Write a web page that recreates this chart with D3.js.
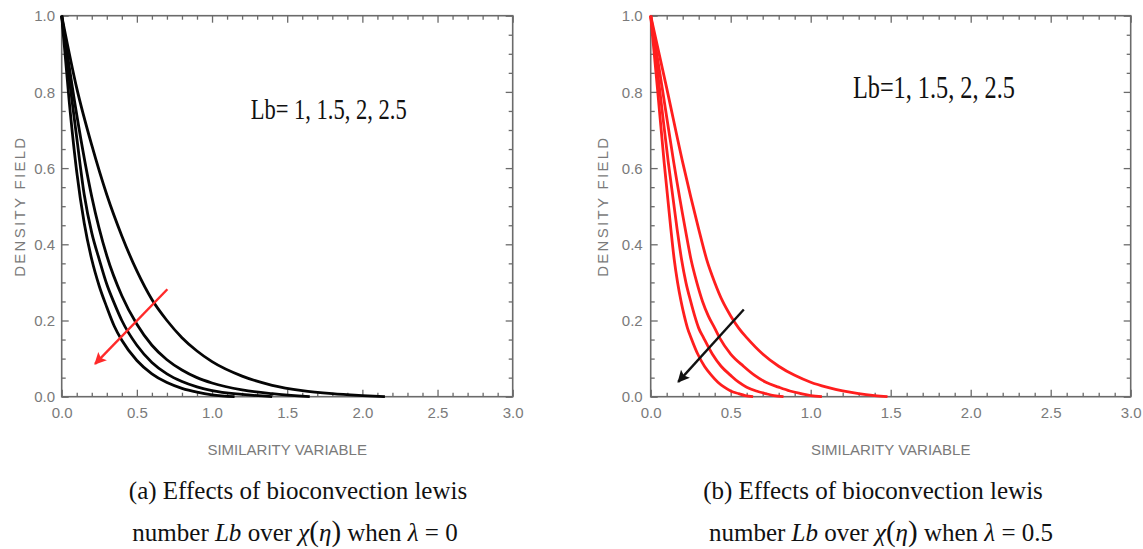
<!DOCTYPE html>
<html>
<head>
<meta charset="utf-8">
<script src="https://cdn.jsdelivr.net/npm/d3@7"></script>
<style>
body { margin: 0; background: #fff; }
.tick text { font-family: "Liberation Sans", Arial, sans-serif; font-size: 15px; fill: #7a7a7a; }
.axis-title { font-family: "Liberation Sans", Arial, sans-serif; font-size: 15px; fill: #7a7a7a; }
.caption { font-family: "Liberation Serif", "Times New Roman", serif; font-size: 25px; fill: #111; }
</style>
</head>
<body>
<div id="chart"></div>
<script>
// tick labels
var xTicks = [0, 0.5, 1, 1.5, 2, 2.5, 3],
	yTicks = [0, 0.2, 0.4, 0.6, 0.8, 1];

var lbValues = [1, 1.5, 2, 2.5];

var chiA_lb1 = [[0,1],[0.1,0.81],[0.2,0.66],[0.3,0.53],[0.4,0.422],[0.5,0.33],[0.6,0.255],[0.7,0.2],[0.8,0.155],[0.9,0.12],[1.0,0.092],[1.2,0.054],[1.4,0.03],[1.6,0.016],[1.8,0.008],[2.0,0.003],[2.15,0]],
	chiA_lb15 = [[0,1],[0.1,0.74],[0.2,0.525],[0.3,0.37],[0.4,0.265],[0.5,0.19],[0.6,0.135],[0.7,0.097],[0.8,0.07],[0.9,0.05],[1.0,0.036],[1.2,0.018],[1.4,0.008],[1.65,0]],
	chiA_lb2 = [[0,1],[0.05,0.835],[0.1,0.68],[0.15,0.53],[0.2,0.43],[0.25,0.36],[0.3,0.295],[0.35,0.245],[0.4,0.2],[0.5,0.135],[0.6,0.09],[0.7,0.06],[0.8,0.04],[0.9,0.026],[1.0,0.016],[1.2,0.006],[1.4,0]],
	chiA_lb25 = [[0,1],[0.05,0.775],[0.1,0.59],[0.15,0.455],[0.2,0.36],[0.25,0.29],[0.3,0.235],[0.35,0.185],[0.4,0.148],[0.5,0.095],[0.6,0.06],[0.7,0.037],[0.8,0.022],[0.9,0.012],[1.0,0.005],[1.15,0]];

// (b) lambda = 0.5
var chiB_lb1 = [[0,1],[0.1,0.81],[0.2,0.615],[0.3,0.44],[0.35,0.36],[0.4,0.3],[0.45,0.25],[0.5,0.212],[0.55,0.18],[0.6,0.155],[0.7,0.112],[0.8,0.08],[0.9,0.056],[1.0,0.038],[1.1,0.025],[1.2,0.015],[1.3,0.008],[1.4,0.003],[1.48,0]],
	chiB_lb15 = [[0,1],[0.072,0.81],[0.144,0.615],[0.216,0.44],[0.252,0.36],[0.288,0.3],[0.324,0.25],[0.36,0.212],[0.4,0.18],[0.43,0.155],[0.5,0.112],[0.58,0.08],[0.65,0.056],[0.72,0.038],[0.8,0.025],[0.87,0.015],[0.94,0.008],[1.0,0.003],[1.07,0]],
	chiB_lb2 = [[0,1],[0.055,0.81],[0.11,0.615],[0.165,0.44],[0.193,0.36],[0.22,0.3],[0.25,0.25],[0.275,0.212],[0.3,0.18],[0.33,0.155],[0.385,0.112],[0.44,0.08],[0.5,0.056],[0.55,0.038],[0.6,0.025],[0.66,0.015],[0.72,0.008],[0.77,0.003],[0.83,0]],
	chiB_lb25 = [[0,1],[0.042,0.81],[0.084,0.615],[0.126,0.44],[0.147,0.36],[0.168,0.3],[0.19,0.25],[0.21,0.212],[0.23,0.18],[0.252,0.155],[0.294,0.112],[0.336,0.08],[0.38,0.056],[0.42,0.038],[0.46,0.025],[0.5,0.015],[0.55,0.008],[0.59,0.003],[0.64,0]];

// arrows [from, to] in data units
var arrowA = [[0.703, 0.282], [0.222, 0.086]],
	arrowB = [[0.582, 0.229], [0.172, 0.039]];

var width = 1143, height = 549,
	plotTop = 15.7, plotBottom = 396.7;

var svg = d3.select("#chart").append("svg")
	.attr("width", width)
	.attr("height", height);

var defs = svg.append("defs");
function marker(id, color){
	defs.append("marker")
		.attr("id", id)
		.attr("viewBox", "0 0 10 10")
		.attr("refX", 9).attr("refY", 5)
		.attr("markerUnits", "userSpaceOnUse")
		.attr("markerWidth", 16).attr("markerHeight", 12)
		.attr("orient", "auto")
		.append("path")
		.attr("d", "M0,0 L10,5 L0,10 L2,5 Z")
		.attr("fill", color);
}
marker("head-red", "#ff2a2a");
marker("head-black", "#111");

var panels = [
	{ x0: 61.7, x1: 512.7, curves: [chiA_lb1, chiA_lb15, chiA_lb2, chiA_lb25], color: "#050505",
	  arrow: arrowA, arrowColor: "#ff2a2a", head: "head-red",
	  label: "Lb= 1, 1.5, 2, 2.5", labelAt: [1.257, 0.729], labelW: 156, labelSize: 29,
	  yPad: 6.7, yTitleX: 25,
	  capX: 298, lambda: "0" },
	{ x0: 650.7, x1: 1130.7, curves: [chiB_lb1, chiB_lb15, chiB_lb2, chiB_lb25], color: "#ff1e1e",
	  arrow: arrowB, arrowColor: "#111", head: "head-black",
	  label: "Lb=1, 1.5, 2, 2.5", labelAt: [1.264, 0.784], labelW: 162, labelSize: 32,
	  yPad: 8, yTitleX: 608,
	  capX: 873, lambda: "0.5" }
];

panels.forEach(function(p, i){
	var x = d3.scaleLinear().domain([0, 3]).range([p.x0, p.x1]),
		y = d3.scaleLinear().domain([0, 1]).range([plotBottom, plotTop]);

	var g = svg.append("g").attr("class", "panel panel-" + i);

	var xMinor = d3.range(0, 3.001, 0.1).filter(function(v){ return Math.abs(v*2 - Math.round(v*2)) > 1e-6; }),
		yMinor = d3.range(0, 1.001, 0.05).filter(function(v){ return Math.abs(v*5 - Math.round(v*5)) > 1e-6; });

	function styleAxis(sel){
		sel.select(".domain").remove();
		sel.selectAll(".tick line").attr("stroke", "#6b6b6b").attr("stroke-width", 1.3);
	}

	// bottom
	g.append("g").attr("transform", "translate(0," + plotBottom + ")")
		.call(d3.axisBottom(x).tickValues(xTicks).tickSize(-7).tickPadding(11).tickFormat(d3.format(".1f")))
		.call(styleAxis);
	g.append("g").attr("transform", "translate(0," + plotBottom + ")")
		.call(d3.axisBottom(x).tickValues(xMinor).tickSize(-4).tickFormat(""))
		.call(styleAxis);
	// top
	g.append("g").attr("transform", "translate(0," + plotTop + ")")
		.call(d3.axisTop(x).tickValues(xTicks).tickSize(-7).tickFormat(""))
		.call(styleAxis);
	g.append("g").attr("transform", "translate(0," + plotTop + ")")
		.call(d3.axisTop(x).tickValues(xMinor).tickSize(-4).tickFormat(""))
		.call(styleAxis);
	// left
	g.append("g").attr("class", "y-left").attr("transform", "translate(" + p.x0 + ",0)")
		.call(d3.axisLeft(y).tickValues(yTicks).tickSize(-7).tickPadding(p.yPad).tickFormat(d3.format(".1f")))
		.call(styleAxis);
	g.append("g").attr("transform", "translate(" + p.x0 + ",0)")
		.call(d3.axisLeft(y).tickValues(yMinor).tickSize(-4).tickFormat(""))
		.call(styleAxis);
	// right
	g.append("g").attr("transform", "translate(" + p.x1 + ",0)")
		.call(d3.axisRight(y).tickValues(yTicks).tickSize(-7).tickFormat(""))
		.call(styleAxis);
	g.append("g").attr("transform", "translate(" + p.x1 + ",0)")
		.call(d3.axisRight(y).tickValues(yMinor).tickSize(-4).tickFormat(""))
		.call(styleAxis);

	g.selectAll(".y-left .tick text").attr("dy", "0.34em");

	// frame
	g.append("rect")
		.attr("x", p.x0).attr("y", plotTop)
		.attr("width", p.x1 - p.x0).attr("height", plotBottom - plotTop)
		.attr("fill", "none")
		.attr("stroke", "#6b6b6b")
		.attr("stroke-width", 1.6);

	// curves
	var line = d3.line()
		.x(function(d){ return x(d[0]); })
		.y(function(d){ return y(d[1]); })
		.curve(d3.curveMonotoneX);

	g.selectAll("path.curve")
		.data(p.curves).enter()
		.append("path")
		.attr("class", function(d, j){ return "curve lb-" + lbValues[j]; })
		.attr("d", line)
		.attr("fill", "none")
		.attr("stroke", p.color)
		.attr("stroke-width", 2.8);

	// arrow
	g.append("line")
		.attr("x1", x(p.arrow[0][0])).attr("y1", y(p.arrow[0][1]))
		.attr("x2", x(p.arrow[1][0])).attr("y2", y(p.arrow[1][1]))
		.attr("stroke", p.arrowColor)
		.attr("stroke-width", 2.4)
		.attr("marker-end", "url(#" + p.head + ")");

	// Lb label
	g.append("text")
		.attr("x", x(p.labelAt[0])).attr("y", y(p.labelAt[1]))
		.attr("font-family", "'Liberation Serif', 'Times New Roman', serif")
		.attr("font-size", p.labelSize)
		.attr("fill", "#111")
		.attr("textLength", p.labelW)
		.attr("lengthAdjust", "spacingAndGlyphs")
		.text(p.label);

	// axis titles
	g.append("text")
		.attr("class", "axis-title")
		.attr("x", (p.x0 + p.x1) / 2).attr("y", 455)
		.attr("text-anchor", "middle")
		.text("SIMILARITY VARIABLE");
	g.append("text")
		.attr("class", "axis-title")
		.attr("transform", "translate(" + p.yTitleX + "," + ((plotTop + plotBottom) / 2) + ") rotate(-90)")
		.attr("text-anchor", "middle")
		.attr("letter-spacing", 2.3)
		.text("DENSITY FIELD");

	// caption
	g.append("text")
		.attr("class", "caption")
		.attr("x", p.capX).attr("y", 499)
		.attr("text-anchor", "middle")
		.text("(" + (i === 0 ? "a" : "b") + ") Effects of bioconvection lewis");

	var cap = g.append("text")
		.attr("class", "caption")
		.attr("x", p.capX + (i === 0 ? -3 : 8)).attr("y", 541)
		.attr("text-anchor", "middle");
	cap.append("tspan").text("number ");
	cap.append("tspan").attr("font-style", "italic").text("Lb");
	cap.append("tspan").text(" over ");
	cap.append("tspan").attr("font-style", "italic").text("\u03C7");
	cap.append("tspan").attr("font-size", 29).text("(");
	cap.append("tspan").attr("font-style", "italic").text("\u03B7");
	cap.append("tspan").attr("font-size", 29).text(")");
	cap.append("tspan").text(" when ");
	cap.append("tspan").attr("font-style", "italic").text("\u03BB");
	cap.append("tspan").text(" = " + p.lambda);
});
</script>
</body>
</html>
